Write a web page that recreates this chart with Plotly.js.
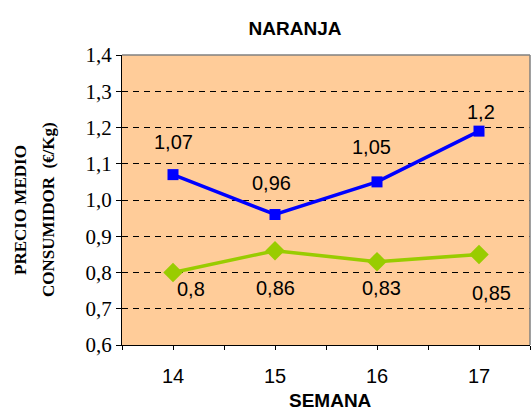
<!DOCTYPE html>
<html><head><meta charset="utf-8">
<script src="https://cdn.plot.ly/plotly-3.0.1.min.js"></script>
<style>html,body{margin:0;padding:0;background:#fff}</style>
</head><body><div id="chart" style="width:531px;height:412px"></div>
<script>
const semanas = [14, 15, 16, 17];
const serieAzul = [1.07, 0.96, 1.05, 1.19];
const etiquetasAzul = ["1,07", "0,96", "1,05", "1,2"];
const serieVerde = [0.80, 0.86, 0.83, 0.85];
const etiquetasVerde = ["0,8", "0,86", "0,83", "0,85"];
const yTicks = [0.6, 0.7, 0.8, 0.9, 1.0, 1.1, 1.2, 1.3, 1.4];
const yTickLabels = ["0,6", "0,7", "0,8", "0,9", "1,0", "1,1", "1,2", "1,3", "1,4"];

const xTickVals = [];
const xTickText = [];
for (let i = 0; i < semanas.length; i++) {
  xTickVals.push(semanas[i] - 0.5, semanas[i]);
  xTickText.push("", String(semanas[i]));
}
xTickVals.push(semanas[semanas.length - 1] + 0.5);
xTickText.push("");

const traces = [
  {x: semanas, y: serieAzul, mode: "lines+markers", type: "scatter",
   line: {color: "#0000FF", width: 3.5}, marker: {symbol: "square", size: 11, color: "#0000FF"},
   hoverinfo: "none", cliponaxis: false},
  {x: semanas, y: serieVerde, mode: "lines+markers", type: "scatter",
   line: {color: "#99CC00", width: 3.5}, marker: {symbol: "diamond", size: 15, color: "#99CC00"},
   hoverinfo: "none", cliponaxis: false}
];

const offAzul = [{dx: 0, dy: 33}, {dx: -4, dy: 32}, {dx: -6, dy: 35}, {dx: 2, dy: 19}];
const offVerde = [{dx: 18, dy: -16}, {dx: 0, dy: -37}, {dx: 4, dy: -26}, {dx: 12, dy: -39}];
const labelFont = {family: "Liberation Sans, Arial, sans-serif", size: 20, color: "#000"};
const annotations = [];
semanas.forEach((s, i) => {
  annotations.push({x: s, y: serieAzul[i], xref: "x", yref: "y", text: etiquetasAzul[i],
    showarrow: false, yshift: offAzul[i].dy, xshift: offAzul[i].dx, font: labelFont});
  annotations.push({x: s, y: serieVerde[i], xref: "x", yref: "y", text: etiquetasVerde[i],
    showarrow: false, yshift: offVerde[i].dy, xshift: offVerde[i].dx, font: labelFont});
});
const yTitleFont = {family: "Liberation Serif, Times New Roman, serif", size: 17, color: "#000"};
annotations.push({xref: "paper", yref: "paper", x: (20 - 122) / 408, y: 1 - (210 - 55) / 290,
  xanchor: "center", yanchor: "middle", text: "<b>PRECIO MEDIO</b>", textangle: -90,
  showarrow: false, font: yTitleFont});
annotations.push({xref: "paper", yref: "paper", x: (48 - 122) / 408, y: 1 - (210 - 55) / 290,
  xanchor: "center", yanchor: "middle", text: "<b>CONSUMIDOR  (€/Kg)</b>", textangle: -90,
  showarrow: false, font: yTitleFont});
annotations.push({xref: "paper", yref: "paper", x: (330 - 122) / 408, y: -(400 - 345) / 290,
  xanchor: "center", yanchor: "middle", text: "<b>SEMANA</b>", showarrow: false,
  font: {family: "Liberation Sans, Arial, sans-serif", size: 19, color: "#000"}});

const layout = {
  width: 531, height: 412,
  margin: {l: 122, r: 1, t: 55, b: 67},
  paper_bgcolor: "#FFFFFF", plot_bgcolor: "#FFCC99",
  showlegend: false,
  title: {text: "<b>NARANJA</b>", x: 295/531, xanchor: "center", y: 1 - 28/412, yanchor: "middle",
    font: {family: "Liberation Sans, Arial, sans-serif", size: 19, color: "#000"}},
  xaxis: {range: [13.5, 17.5], tickmode: "array", tickvals: xTickVals, ticktext: xTickText,
    ticks: "outside", ticklen: 4, tickcolor: "#000", showgrid: false, zeroline: false,
    showline: true, linecolor: "#000", linewidth: 1, ticklabelstandoff: 9,
    tickfont: {family: "Liberation Sans, Arial, sans-serif", size: 20, color: "#000"}},
  yaxis: {range: [0.6, 1.4], tickmode: "array", tickvals: yTicks, ticktext: yTickLabels,
    ticks: "outside", ticklen: 5, tickcolor: "#000", showgrid: true, gridcolor: "#000",
    griddash: "6px,5px", gridwidth: 1, zeroline: false, showline: true, linecolor: "#000", linewidth: 1,
    tickfont: {family: "Liberation Serif, Times New Roman, serif", size: 21, color: "#000"}},
  shapes: [
    {type: "line", xref: "paper", yref: "paper", x0: 0, x1: 1, y0: 1, y1: 1, line: {color: "#808080", width: 1.5}},
    {type: "line", xref: "paper", yref: "paper", x0: 1, x1: 1, y0: 0, y1: 1, line: {color: "#808080", width: 1.5}}
  ],
  annotations: annotations
};
Plotly.newPlot("chart", traces, layout, {displayModeBar: false, staticPlot: true});
</script></body></html>
